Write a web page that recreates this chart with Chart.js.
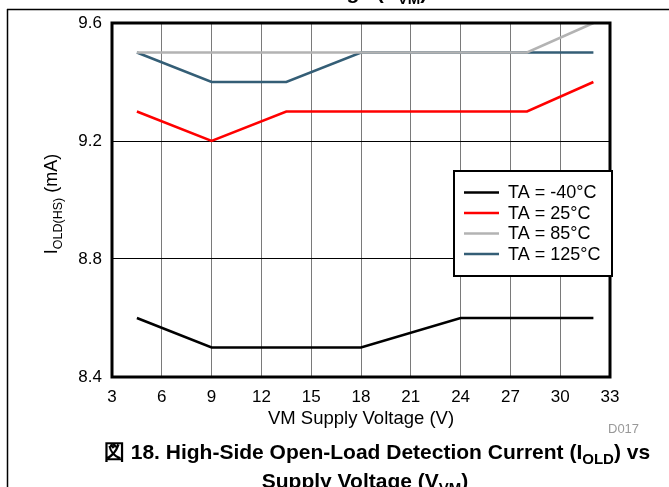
<!DOCTYPE html>
<html>
<head>
<meta charset="utf-8">
<script src="https://cdn.jsdelivr.net/npm/chart.js@4/dist/chart.umd.min.js"></script>
<style>
body { margin: 0; background: #fff; }
canvas { display: block; }
</style>
</head>
<body>
<canvas id="corrienteChart" width="669" height="487"></canvas>
<script>
// Datos: corriente de detección (mA) vs tensión VM (V)
const voltajes = [4.5, 9, 13.5, 18, 24, 28, 32];
const corrienteMenos40 = [8.6, 8.5, 8.5, 8.5, 8.6, 8.6, 8.6];
const corriente25 = [9.3, 9.2, 9.3, 9.3, 9.3, 9.3, 9.4];
const corriente85 = [9.5, 9.5, 9.5, 9.5, 9.5, 9.5, 9.6];
const corriente125 = [9.5, 9.4, 9.4, 9.5, 9.5, 9.5, 9.5];
const etiquetas = ['TA = -40°C', 'TA = 25°C', 'TA = 85°C', 'TA = 125°C'];
const colores = ['#000000', '#ff0000', '#b3b3b3', '#345e76'];
const ticksX = [3, 6, 9, 12, 15, 18, 21, 24, 27, 30, 33];
const ticksY = [8.4, 8.8, 9.2, 9.6];

const fuente = '"Liberation Sans", Arial, sans-serif';
Chart.defaults.font.family = fuente;
Chart.defaults.color = '#000';

const series = [corrienteMenos40, corriente25, corriente85, corriente125];

// Dibuja un texto con partes en subíndice, centrado o alineado a la izquierda
function textoConSub(ctx, partes, x, y, tam, tamSub, negrita, centrado) {
    const peso = negrita ? 'bold ' : '';
    let ancho = 0;
    partes.forEach(([t, sub]) => {
        ctx.font = peso + (sub ? tamSub : tam) + 'px ' + fuente;
        ancho += ctx.measureText(t).width;
    });
    let xi = centrado ? x - ancho / 2 : x;
    ctx.textAlign = 'left';
    ctx.textBaseline = 'alphabetic';
    partes.forEach(([t, sub]) => {
        ctx.font = peso + (sub ? tamSub : tam) + 'px ' + fuente;
        ctx.fillText(t, xi, sub ? y + tam * 0.25 : y);
        xi += ctx.measureText(t).width;
    });
}

const marcoPlugin = {
    id: 'marco',
    afterDraw(chart) {
        const { ctx, chartArea: a } = chart;
        ctx.save();

        // Bordes de la página
        ctx.strokeStyle = '#000';
        ctx.lineWidth = 1.5;
        ctx.beginPath();
        ctx.moveTo(7, 9.5);
        ctx.lineTo(669, 9.5);
        ctx.moveTo(7.5, 9);
        ctx.lineTo(7.5, 487);
        ctx.stroke();

        // Marco grueso del área de trazado
        ctx.lineWidth = 3;
        ctx.strokeRect(a.left, a.top, a.right - a.left, a.bottom - a.top);

        // Leyenda en recuadro
        const lx = 454, ly = 171, lw = 158, lh = 105;
        ctx.fillStyle = '#fff';
        ctx.fillRect(lx, ly, lw, lh);
        ctx.lineWidth = 2;
        ctx.strokeRect(lx, ly, lw, lh);
        chart.data.datasets.forEach((ds, i) => {
            const y = 192.5 + i * 20.5;
            ctx.strokeStyle = ds.borderColor;
            ctx.lineWidth = 2.5;
            ctx.beginPath();
            ctx.moveTo(464, y);
            ctx.lineTo(499, y);
            ctx.stroke();
            ctx.fillStyle = '#000';
            ctx.font = '18px ' + fuente;
            ctx.textAlign = 'left';
            ctx.textBaseline = 'middle';
            ctx.fillText(ds.label, 508, y + 1);
        });

        ctx.fillStyle = '#000';
        // Título eje Y (rotado)
        ctx.save();
        ctx.translate(57, 204);
        ctx.rotate(-Math.PI / 2);
        textoConSub(ctx, [['I', false], ['OLD(HS)', true], [' (mA)', false]], 0, 0, 18, 12.5, false, true);
        ctx.restore();

        // Título eje X
        ctx.font = '18.5px ' + fuente;
        ctx.textAlign = 'center';
        ctx.textBaseline = 'alphabetic';
        ctx.fillText('VM Supply Voltage (V)', 361, 424);

        // Código de figura
        ctx.fillStyle = '#999';
        ctx.font = '13px ' + fuente;
        ctx.textAlign = 'left';
        ctx.fillText('D017', 608, 433);

        // Pie de figura
        ctx.fillStyle = '#000';
        textoConSub(ctx, [['図 18. High-Side Open-Load Detection Current (I', false], ['OLD', true], [') vs', false]], 377, 459, 21, 15, true, true);
        textoConSub(ctx, [['Supply Voltage (V', false], ['VM', true], [')', false]], 365, 488, 21, 15, true, true);
        // Resto del pie de la figura anterior
        textoConSub(ctx, [['Voltage (V', false], ['VM', true], [')', false]], 362, -1, 21, 15, true, true);

        ctx.restore();
    }
};

const ctx = document.getElementById('corrienteChart').getContext('2d');
const corrienteChart = new Chart(ctx, {
    type: 'line',
    data: {
        datasets: series.map((valores, i) => ({
            label: etiquetas[i],
            data: voltajes.map((v, j) => ({ x: v, y: valores[j] })),
            borderColor: colores[i],
            backgroundColor: colores[i],
            borderWidth: 2.5,
            pointRadius: 0,
            tension: 0,
            clip: 2
        }))
    },
    options: {
        responsive: false,
        animation: false,
        layout: { padding: { left: 0, top: 23, right: 59, bottom: 0 } },
        plugins: {
            legend: { display: false },
            tooltip: { enabled: false }
        },
        scales: {
            x: {
                type: 'linear',
                min: 3,
                max: 33,
                afterBuildTicks: (eje) => { eje.ticks = ticksX.map(v => ({ value: v })); },
                afterFit: (eje) => { eje.height = 110; },
                border: { display: false },
                grid: { color: '#7a7a7a', lineWidth: 1, drawTicks: false },
                ticks: { padding: 10, font: { size: 17 }, color: '#000' }
            },
            y: {
                min: 8.4,
                max: 9.6,
                afterBuildTicks: (eje) => { eje.ticks = ticksY.map(v => ({ value: v })); },
                afterFit: (eje) => { eje.width = 112; },
                border: { display: false },
                grid: { color: '#000', lineWidth: 1, drawTicks: false },
                ticks: { padding: 10, font: { size: 17 }, color: '#000', callback: (v) => v.toFixed(1) }
            }
        }
    },
    plugins: [marcoPlugin]
});
</script>
</body>
</html>
